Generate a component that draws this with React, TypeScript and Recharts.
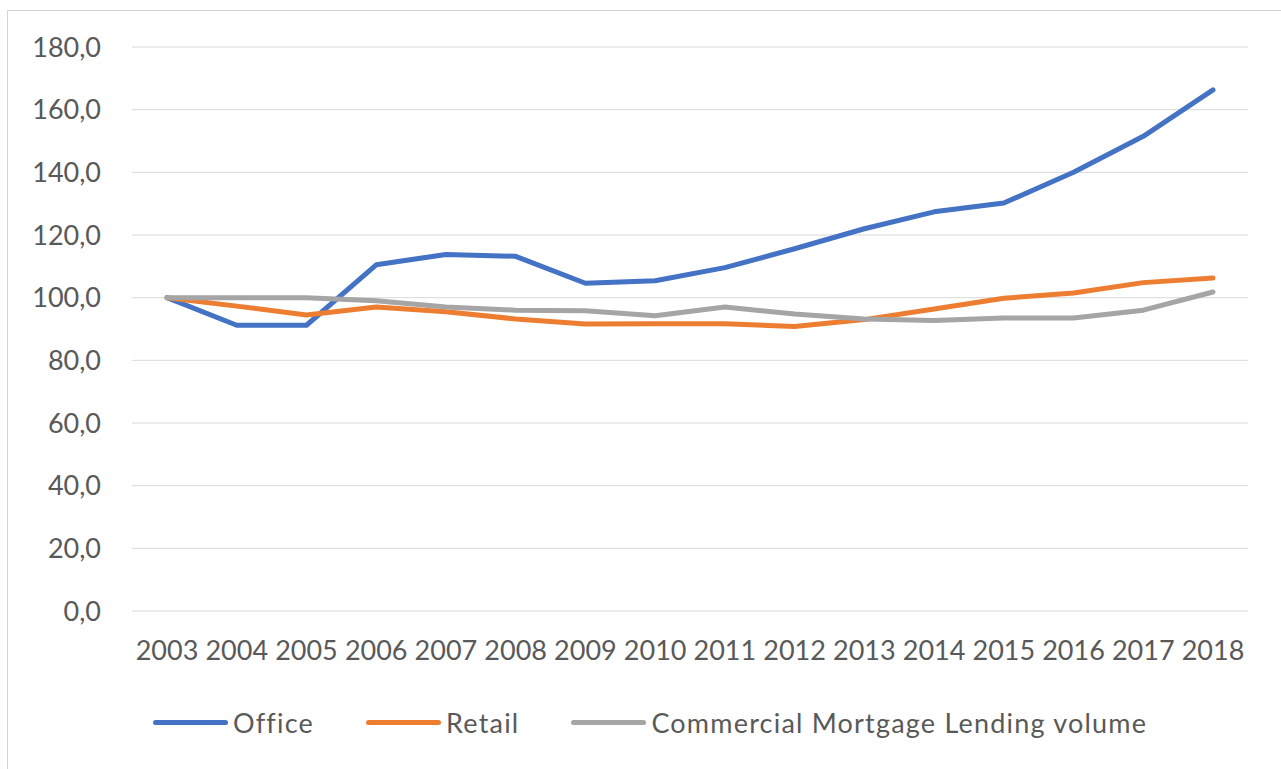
import React from "react";
import { LineChart, Line, XAxis, YAxis, CartesianGrid, Legend } from "recharts";

const years = ["2003", "2004", "2005", "2006", "2007", "2008", "2009", "2010", "2011", "2012", "2013", "2014", "2015", "2016", "2017", "2018"];
const office = [100, 91.2, 91.2, 110.5, 113.8, 113.2, 104.6, 105.4, 109.6, 115.6, 122.0, 127.4, 130.2, 140.0, 151.5, 166.3];
const retail = [100, 97.3, 94.5, 97.0, 95.5, 93.2, 91.6, 91.7, 91.7, 90.8, 93.0, 96.4, 99.8, 101.5, 104.8, 106.3];
const lending = [100, 100, 100, 99.0, 97.0, 96.0, 95.8, 94.2, 97.0, 94.8, 93.2, 92.7, 93.5, 93.5, 96.0, 101.8];
const yTicks = [0, 20, 40, 60, 80, 100, 120, 140, 160, 180];

const series = [
  { key: "office", name: "Office", color: "#4472C4" },
  { key: "retail", name: "Retail", color: "#ED7D31" },
  { key: "lending", name: "Commercial Mortgage Lending volume", color: "#A5A5A5" },
];

const data = years.map((year, i) => ({
  year,
  office: office[i],
  retail: retail[i],
  lending: lending[i],
}));

const font = "Lato, 'Open Sans', sans-serif";
const textColor = "#595959";

function LegendContent() {
  return (
    <div style={{ height: 50, display: "flex", alignItems: "center", paddingLeft: 153, gap: 52, fontFamily: font, fontSize: 27, letterSpacing: 1.2, color: textColor }}>
      {series.map((s) => (
        <div key={s.key} style={{ display: "flex", alignItems: "center" }}>
          <div style={{ width: 75, height: 5, borderRadius: 3, background: s.color, marginRight: 5 }} />
          <span>{s.name}</span>
        </div>
      ))}
    </div>
  );
}

export default function App() {
  return (
    <div style={{ position: "fixed", left: 0, top: 0, width: 1281, height: 769, background: "#fff", overflow: "hidden" }}>
      <div style={{ position: "absolute", left: 7, top: 10, width: 1300, height: 800, border: "1px solid #d4d4d4", boxSizing: "border-box" }} />
      <div style={{ position: "absolute", left: 0, top: 0 }}>
        <LineChart width={1281} height={769} data={data} margin={{ top: 47, right: 33, left: 0, bottom: 22 }}>
          <CartesianGrid vertical={false} stroke="#D9D9D9" strokeWidth={1} />
          <XAxis
            dataKey="year"
            axisLine={false}
            tickLine={false}
            height={86}
            tickMargin={24}
            padding={{ left: 35, right: 35 }}
            interval={0}
            tick={{ fill: textColor, fontSize: 27, fontFamily: font }}
          />
          <YAxis
            domain={[0, 180]}
            ticks={yTicks}
            width={132}
            axisLine={false}
            tickLine={false}
            tickMargin={25}
            tickFormatter={(v: number) => v.toFixed(1).replace(".", ",")}
            tick={{ fill: textColor, fontSize: 27, fontFamily: font }}
          />
          <Legend verticalAlign="bottom" content={() => <LegendContent />} wrapperStyle={{ left: 0, width: 1281 }} />
          {series.map((s) => (
            <Line
              key={s.key}
              dataKey={s.key}
              name={s.name}
              type="linear"
              stroke={s.color}
              strokeWidth={5}
              strokeLinecap="round"
              strokeLinejoin="round"
              dot={false}
              activeDot={false}
              isAnimationActive={false}
            />
          ))}
        </LineChart>
      </div>
    </div>
  );
}
